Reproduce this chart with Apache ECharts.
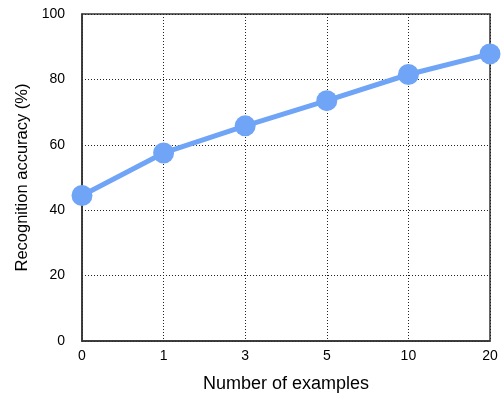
<!DOCTYPE html>
<html><head><meta charset="utf-8">
<script src="https://cdn.jsdelivr.net/npm/echarts@6/dist/echarts.min.js"></script>
<style>html,body{margin:0;padding:0;background:#fff}#c{width:501px;height:393px}</style>
</head><body><div id="c"></div>
<script>
var categories = ['0','1','3','5','10','20'];
var accuracy = [44.5, 57.5, 65.8, 73.5, 81.5, 87.8];
var yTicks = [0, 20, 40, 60, 80, 100];

var chart = echarts.init(document.getElementById('c'), null, {renderer:'canvas'});
var font = 'Liberation Sans, Helvetica, Arial, sans-serif';
chart.setOption({
  animation:false,
  grid:{left:82, right:11, top:14, bottom:52, show:true, borderColor:'#333', borderWidth:1.5,
    backgroundColor:'transparent', outerBoundsMode:'none', containLabel:false},
  xAxis:{type:'category', data:categories, boundaryGap:false,
    name:'Number of examples', nameLocation:'middle', nameGap:34,
    nameTextStyle:{fontFamily:font, fontSize:18, color:'#000'},
    axisLine:{show:true, lineStyle:{color:'#333', width:1.5}},
    axisTick:{show:false},
    axisLabel:{fontFamily:font, fontSize:14, color:'#000', margin:8},
    splitLine:{show:true, lineStyle:{color:'#222', type:[1,2], width:1}}},
  yAxis:{type:'value', min:yTicks[0], max:yTicks[yTicks.length-1], interval:20,
    name:'Recognition accuracy (%)', nameLocation:'middle', nameGap:48,
    nameTextStyle:{fontFamily:font, fontSize:16.5, color:'#000'},
    axisLine:{show:true, lineStyle:{color:'#333', width:1.5}},
    axisTick:{show:false},
    axisLabel:{fontFamily:font, fontSize:14, color:'#000', margin:17},
    splitLine:{show:true, lineStyle:{color:'#222', type:[1,2], width:1}}},
  series:[{type:'line', data:accuracy, symbol:'circle', symbolSize:21,
    lineStyle:{color:'#70a4f6', width:5},
    itemStyle:{color:'#70a4f6'}, z:5}]
});
</script></body></html>
